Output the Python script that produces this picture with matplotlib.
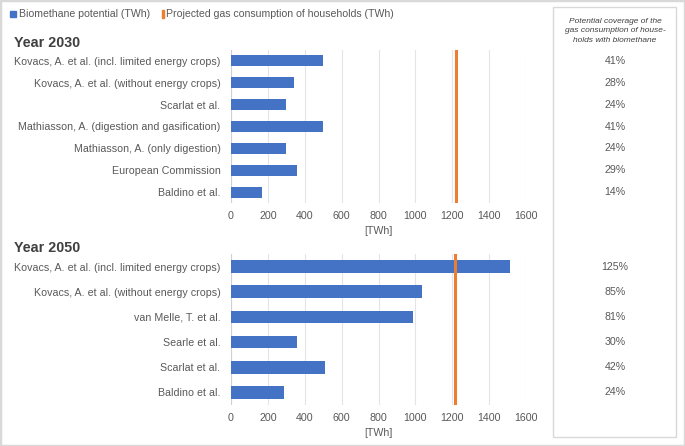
import matplotlib
matplotlib.use("Agg")
import matplotlib.pyplot as plt
from matplotlib.patches import Rectangle
from matplotlib.transforms import blended_transform_factory

plt.rcParams["font.family"] = ["Liberation Sans", "DejaVu Sans"]

BLUE = "#4472C4"
ORANGE = "#ED7D31"
GREY = "#595959"
GRID = "#e3e3ec"
FS = 7.7

# data (TWh)
labels_2030 = ["Kovacs, A. et al. (incl. limited energy crops)",
               "Kovacs, A. et al. (without energy crops)",
               "Scarlat et al.",
               "Mathiasson, A. (digestion and gasification)",
               "Mathiasson, A. (only digestion)",
               "European Commission",
               "Baldino et al."]
potential_2030 = [500, 340, 300, 500, 300, 360, 170]
coverage_2030 = ["41%", "28%", "24%", "41%", "24%", "29%", "14%"]
households_2030 = 1220

labels_2050 = ["Kovacs, A. et al. (incl. limited energy crops)",
               "Kovacs, A. et al. (without energy crops)",
               "van Melle, T. et al.",
               "Searle et al.",
               "Scarlat et al.",
               "Baldino et al."]
potential_2050 = [1515, 1035, 985, 360, 510, 290]
coverage_2050 = ["125%", "85%", "81%", "30%", "42%", "24%"]
households_2050 = 1215

xticks = [0, 200, 400, 600, 800, 1000, 1200, 1400, 1600]

W, H = 685, 446
fig = plt.figure(figsize=(W / 100, H / 100), dpi=100)


def px(x0, y0, x1, y1):
    # pixel box (top-left origin) -> figure fraction rect
    return [x0 / W, 1 - y1 / H, (x1 - x0) / W, (y1 - y0) / H]


def panel(rect, labels, values, hh, coverage, title, title_y):
    ax = fig.add_axes(rect)
    n = len(labels)
    y = list(range(n))
    ax.barh(y, values, height=0.5, color=BLUE, zorder=3)
    ax.axvline(hh, color=ORANGE, lw=2.2, zorder=4)
    ax.set_ylim(n - 0.5, -0.5)
    ax.set_xlim(0, 1600)
    ax.set_xticks(xticks)
    ax.set_yticks(y)
    ax.set_yticklabels(labels, fontsize=FS, color=GREY)
    ax.tick_params(axis="both", length=0, colors=GREY, labelsize=FS)
    ax.tick_params(axis="y", pad=7.5)
    ax.tick_params(axis="x", pad=6)
    ax.grid(axis="x", color=GRID, lw=0.8, zorder=0)
    for s in ax.spines.values():
        s.set_visible(False)
    ax.axvline(0, color="#d0d0d0", lw=0.8, zorder=2)
    ax.set_xlabel("[TWh]", fontsize=FS, color=GREY, labelpad=3)
    tr = blended_transform_factory(fig.transFigure, ax.transData)
    for i, c in enumerate(coverage):
        ax.text(615 / W, i, c, transform=tr, ha="center", va="center",
                fontsize=FS, color=GREY)
    fig.text(14 / W, 1 - title_y / H, title, fontsize=10.3,
             fontweight="bold", color="#404040", va="center")
    return ax


panel(px(231, 50, 526, 203), labels_2030, potential_2030, households_2030,
      coverage_2030, "Year 2030", 43)
panel(px(231, 254, 526, 405), labels_2050, potential_2050, households_2050,
      coverage_2050, "Year 2050", 248)

# legend
fig.patches.append(Rectangle((10 / W, 1 - 17 / H), 6 / W, 6 / H,
                             transform=fig.transFigure, color=BLUE))
fig.text(19 / W, 1 - 14 / H, "Biomethane potential (TWh)", fontsize=7.6,
         color=GREY, va="center")
fig.patches.append(Rectangle((161.5 / W, 1 - 18 / H), 2 / W, 8 / H,
                             transform=fig.transFigure, color=ORANGE))
fig.text(166.5 / W, 1 - 14 / H, "Projected gas consumption of households (TWh)",
         fontsize=7.6, color=GREY, va="center")

# right-hand coverage box
fig.patches.append(Rectangle((553 / W, 1 - 437 / H), 123 / W, 430 / H,
                             transform=fig.transFigure, fill=False,
                             edgecolor="#d9d9d9", lw=1))
fig.text(615 / W, 1 - 31 / H,
         "Potential coverage of the\ngas consumption of house-\nholds with biomethane",
         ha="center", va="center", fontsize=6.0, style="italic", color="#404040",
         linespacing=1.45)

# outer frame
fig.patches.append(Rectangle((0, 0), 1, 1, transform=fig.transFigure,
                             fill=False, edgecolor="#d9d9d9", lw=2.5))

fig.savefig("out.png", dpi=100, facecolor="white")
